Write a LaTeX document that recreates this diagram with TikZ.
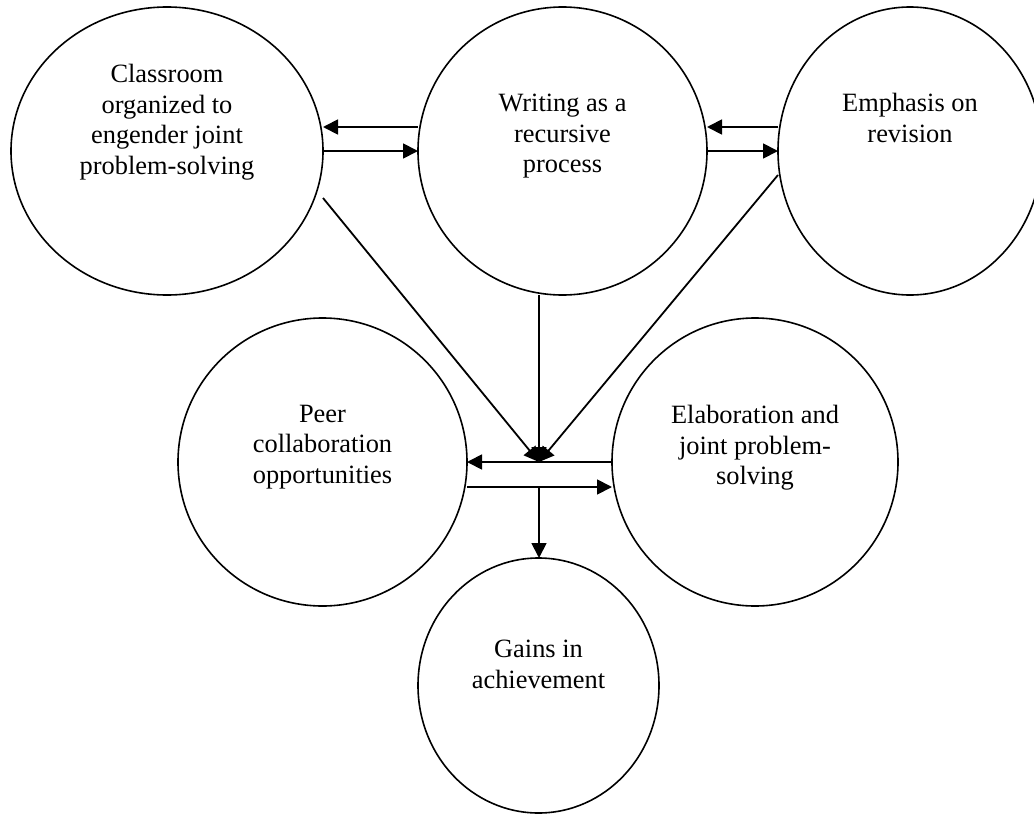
\documentclass[tikz,border=0pt]{standalone}
\usepackage{fontspec}
\setmainfont{Liberation Serif}
\usetikzlibrary{shapes.geometric,arrows.meta}
\begin{document}
\begin{tikzpicture}[x=1pt,y=-1pt,
  bubble/.style={ellipse, draw, line width=1.6pt, inner sep=0pt, outer sep=0pt},
  bubbletext/.style={anchor=north, inner sep=0pt, align=center,
    font=\fontsize{26.4}{30.5}\selectfont},
  conn/.style={line width=1.8pt},
  arr/.style={conn, -{Triangle[length=15pt,width=15pt]}}
]
\clip (0,0) rectangle (1034,814);

% the six bubbles
\node[bubble, minimum width=312pt, minimum height=288pt] (c1) at (167,151) {};
\node[bubble, minimum width=289pt, minimum height=288pt] (c2) at (562.5,151) {};
\node[bubble, minimum width=264pt, minimum height=288pt] (c3) at (910,151) {};
\node[bubble, minimum width=289pt, minimum height=288pt] (c4) at (322.5,462) {};
\node[bubble, minimum width=286pt, minimum height=288pt] (c5) at (755,462) {};
\node[bubble, minimum width=241pt, minimum height=255pt] (c6) at (538.5,685.5) {};

% their texts
\node[bubbletext] (t1) at (167,64) {Classroom\\organized to\\engender joint\\problem-solving};
\node[bubbletext] (t2) at (562.5,94) {Writing as a\\recursive\\process};
\node[bubbletext] (t3) at (910,93) {Emphasis on\\revision};
\node[bubbletext] (t4) at (322.5,405) {Peer\\collaboration\\opportunities};
\node[bubbletext] (t5) at (755,405) {Elaboration and\\joint problem-\\solving};
\node[bubbletext] (t6) at (538.5,640) {Gains in\\achievement};

% two-way links along the top row
\draw[arr] ([yshift=24pt]c2.west) -- ([yshift=24pt]c1.east);
\draw[arr] (c1.east) -- (c2.west);
\draw[arr] ([yshift=24pt]c3.west) -- ([yshift=24pt]c2.east);
\draw[arr] (c2.east) -- (c3.west);

% the three top bubbles converge on one point
\coordinate (j) at (539,462);
\draw[arr] ([yshift=-47pt]c1.east) -- (j);
\draw[arr] (c2.south -| j) -- (j);
\draw[arr] ([yshift=-24pt]c3.west) -- (j);

% two-way links in the middle row, then down to the outcome
\draw[arr] (c5.west) -- (c4.east);
\coordinate (lowL) at ([yshift=-25pt]c4.east);
\coordinate (lowR) at ([yshift=-25pt]c5.west);
\draw[arr] (lowL) -- (lowR);
\draw[arr] (lowL -| j) -- (c6.north -| j);
\end{tikzpicture}
\end{document}
